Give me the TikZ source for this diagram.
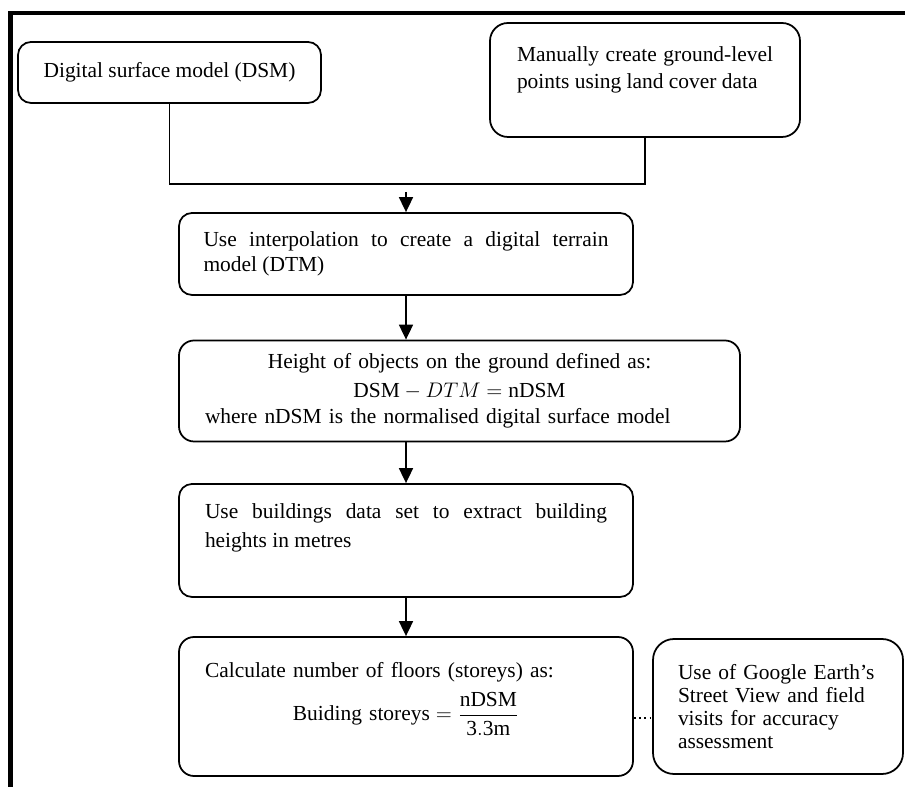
\documentclass[tikz,border=0pt]{standalone}
\usepackage{fontspec}
\setmainfont{Liberation Serif}
\usetikzlibrary{arrows.meta}
\hyphenpenalty=10000
\tolerance=9999
% empty room kept below the text of a box
\newcommand{\boxpad}[1]{\par\vspace*{#1}\nointerlineskip\hbox{}}

\begin{document}
\begin{tikzpicture}[
  x=1cm,y=1cm,
  box/.style={draw, line width=1pt, rounded corners=0.26cm, inner sep=0pt, font=\fontsize{12.2}{15}\selectfont},
  flow/.style={line width=1pt, -{Triangle[length=0.3cm,width=0.28cm]}},
  link/.style={line width=1pt}
]
\useasboundingbox (0,0) rectangle (18.1,15.74);
\draw[line width=2.3pt] (0.21,0) |- (18.1,15.48);

\node[box, minimum width=6.06cm, minimum height=1.22cm] (dsm) at (3.39,14.29) {Digital surface model (DSM)};
\node[box, rounded corners=0.36cm, minimum width=6.2cm, minimum height=2.28cm, text width=5.12cm, align=justify,
  font=\fontsize{12.2}{15.4}\selectfont] (manual) at (12.9,14.14)
  {Manually create ground-level points using land cover data\boxpad{0.4cm}};

\node[box, minimum width=9.08cm, minimum height=1.64cm, text width=8.1cm, align=justify,
  font=\fontsize{12.2}{14.5}\selectfont] (dtm) at (8.12,10.66)
  {Use interpolation to create a digital terrain\linebreak model (DTM)};
\node[box, rounded corners=0.3cm, minimum width=11.22cm, minimum height=2.02cm, text width=10.18cm, align=left] (height) at (9.19,7.92)
  {{\centering Height of objects on the ground defined as:\\[1pt] $\mathrm{DSM} - DTM = \mathrm{nDSM}$\par}where nDSM is the normalised digital surface model};
\node[box, minimum width=9.08cm, minimum height=2.26cm, text width=8.04cm, align=justify,
  font=\fontsize{12.2}{16.5}\selectfont] (bldg) at (8.12,4.93)
  {Use buildings data set to extract building\linebreak heights in metres\boxpad{0.52cm}};
\node[box, rounded corners=0.3cm, minimum width=9.08cm, minimum height=2.78cm, text width=8.04cm, align=left] (calc) at (8.12,1.61)
  {Calculate number of floors (storeys) as:\par\vspace{0.16cm}
   {\centering $\displaystyle \mbox{Buiding storeys} = \frac{\mathrm{nDSM}}{\rule{0pt}{9pt}\mathrm{3.3m}}$\par}\boxpad{0.3cm}};
\node[box, rounded corners=0.42cm, minimum width=5.0cm, minimum height=2.7cm, text width=4.0cm, align=left,
  font=\fontsize{12.2}{13}\selectfont] (google) at (15.56,1.61)
  {Use of Google Earth's\\ Street View and field\\ visits for accuracy\\ assessment};

% connectors
\coordinate (join) at (8.12,12.06);
\coordinate (feed) at (8.12,11.9);
\draw[link] (dsm.south) |- (join) -| (manual.south);
\draw[flow] (feed) -- (dtm.north);
\draw[flow] (dtm) -- (dtm |- height.north);
\draw[flow] (dtm |- height.south) -- (bldg);
\draw[flow] (bldg) -- (calc);
\draw[link, dotted] ([yshift=-0.23cm]calc.east) -- ([yshift=-0.23cm]google.west);
\end{tikzpicture}
\end{document}
